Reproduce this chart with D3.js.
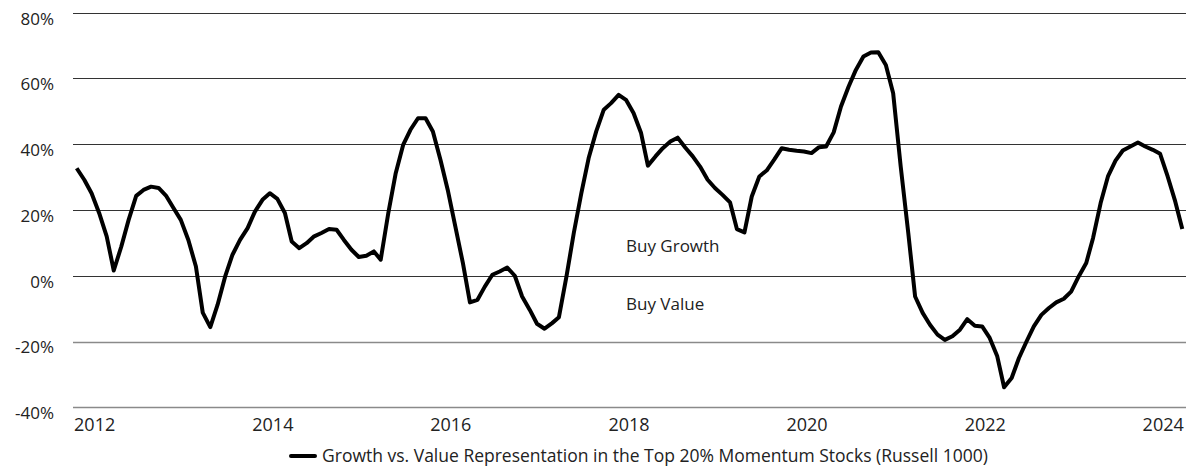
<!DOCTYPE html>
<html>
<head>
<meta charset="utf-8">
<script src="https://cdn.jsdelivr.net/npm/d3@7"></script>
<style>
  html, body { margin: 0; padding: 0; background: #fff; }
  svg { display: block; }
  text { font-family: "Open Sans", Lato, sans-serif; font-weight: 400; fill: #222; }
</style>
</head>
<body>
<svg id="chart" width="1199" height="470"></svg>
<script>
// ---- data ----
const startMonth = "2011-10";   // first monthly observation
const values = [
  32.7, 29.2, 25.1, 19.1, 12, 1.6, 8.9, 17, 24.3, 26.1,
  27.1, 26.7, 24.4, 20.6, 17, 10.9, 2.8, -11.2, -15.6, -8.8,
  -0.2, 6.4, 10.9, 14.5, 19.5, 23.1, 25.1, 23.4, 19.1, 10.4,
  8.4, 9.9, 12, 13, 14.2, 14, 10.9, 7.9, 5.7, 6.1,
  7.4, 4.9, 19, 31, 39.8, 44.4, 47.9, 47.9, 43.9, 35.3,
  26.1, 15, 3.9, -8.1, -7.3, -3.3, 0.3, 1.3, 2.5, 0,
  -6.3, -10.3, -14.6, -16.1, -14.4, -12.6, -0.2, 13, 25.1, 35.8,
  43.9, 50.5, 52.5, 55, 53.5, 49.5, 43.4, 33.5, 36.3, 38.8,
  40.8, 42, 39, 36.3, 33.2, 29.2, 26.7, 24.6, 22.3, 14.2,
  13.2, 24.1, 30.2, 32, 35.3, 38.8, 38.3, 38.0, 37.8, 37.3,
  39.1, 39.3, 43.6, 51.5, 57.5, 62.6, 66.7, 67.9, 68, 64.1,
  55.5, 33.2, 13, -6.3, -11.3, -14.9, -17.9, -19.5, -18.4, -16.4,
  -13.2, -15.2, -15.4, -18.9, -24.5, -33.9, -31.1, -25, -20, -15.4,
  -11.9, -9.8, -8.1, -7, -4.8, -0.2, 3.9, 11.5, 22.1, 30.2,
  35, 38.1, 39.3, 40.5, 39.3, 38.3, 37.1, 30.2, 22.6, 14.2
];
const yTicks = [80, 60, 40, 20, 0, -20, -40];
const xTickYears = [2012, 2014, 2016, 2018, 2020, 2022, 2024];
const seriesName = "Growth vs. Value Representation in the Top 20% Momentum Stocks (Russell 1000)";
const zoneLabels = ["Buy Growth", "Buy Value"];

// ---- build ----
const parseMonth = d3.timeParse("%Y-%m");
const start = parseMonth(startMonth);
const data = values.map((v, i) => ({ date: d3.timeMonth.offset(start, i), value: v }));

const svg = d3.select("#chart");
const x = d3.scaleTime()
  .domain([data[0].date, data[data.length - 1].date])
  .range([76.7, 1182.3]);
const y = d3.scaleLinear().domain([-40, 80]).range([407.3, 12.7]);

const gridX0 = 73, gridX1 = 1186;
const FONT = "'Open Sans', Lato, sans-serif";

// gridlines
svg.append("g").selectAll("line").data(yTicks).join("line")
  .attr("x1", gridX0).attr("x2", gridX1)
  .attr("y1", d => Math.round(y(d)) + 0.5).attr("y2", d => Math.round(y(d)) + 0.5)
  .attr("stroke", d => d < 0 ? "#8a8a8a" : "#333")
  .attr("stroke-width", d => d < 0 ? 1.5 : 1);

// y axis labels
const yAxis = d3.axisLeft(y).tickValues(yTicks).tickSize(0).tickPadding(0)
  .tickFormat(d => d + "%");
const gy = svg.append("g").attr("transform", "translate(54,6)").call(yAxis);
gy.select(".domain").remove();
gy.selectAll("text").style("font-size", "17px").style("font-weight", 400)
  .attr("fill", "#222").style("font-family", FONT);

// x axis labels
const xAxis = d3.axisBottom(x)
  .tickValues(xTickYears.map(yr => new Date(yr, 0, 1)))
  .tickSize(0).tickPadding(0)
  .tickFormat(d3.timeFormat("%Y"));
const gx = svg.append("g").attr("transform", "translate(-5,418)").call(xAxis);
gx.select(".domain").remove();
gx.selectAll("text").style("font-size", "18px").style("font-weight", 400)
  .attr("fill", "#222").style("font-family", FONT);

// zone labels
svg.append("text").attr("x", 626).attr("y", 252).style("font-size", "17px").text(zoneLabels[0]);
svg.append("text").attr("x", 626).attr("y", 310).style("font-size", "17px").text(zoneLabels[1]);

// line
const line = d3.line().x(d => x(d.date)).y(d => y(d.value));
svg.append("path").datum(data)
  .attr("d", line)
  .attr("fill", "none")
  .attr("stroke", "#000")
  .attr("stroke-width", 4)
  .attr("stroke-linejoin", "round");

// legend
const lg = svg.append("g").attr("transform", "translate(291,456)");
lg.append("line").attr("x1", 0).attr("x2", 24).attr("y1", 0).attr("y2", 0)
  .attr("stroke", "#000").attr("stroke-width", 4).attr("stroke-linecap", "round");
lg.append("text").attr("x", 31).attr("y", 6).style("font-size", "17.5px").text(seriesName);
</script>
</body>
</html>
